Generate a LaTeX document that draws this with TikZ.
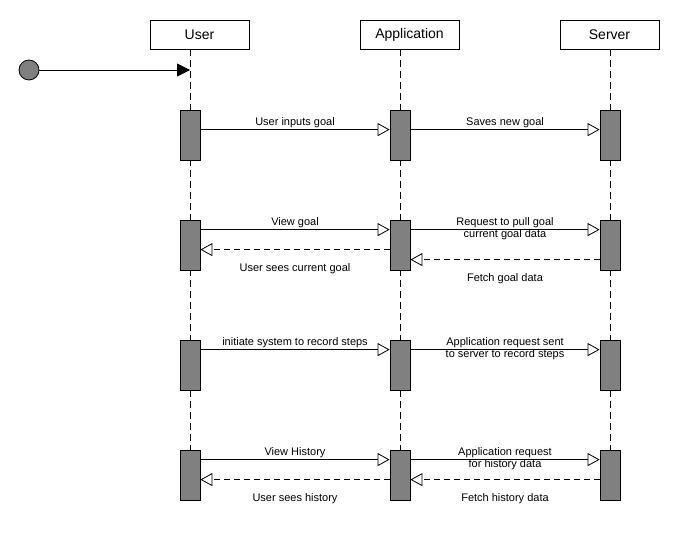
\documentclass[tikz,border=0pt]{standalone}
\usepackage{fontspec}
\setmainfont{Liberation Sans}
\usetikzlibrary{arrows.meta,calc}
\definecolor{bargray}{HTML}{808080}
\begin{document}
\begin{tikzpicture}[x=1pt,y=-1pt,
  hdr/.style={draw=black,line width=0.8pt,fill=white,minimum width=99pt,minimum height=29pt,inner sep=0pt,font=\fontsize{14}{16}\selectfont},
  life/.style={line width=0.8pt,dash pattern=on 7pt off 4pt},
  bar/.style={draw=black,line width=0.8pt,fill=bargray,minimum width=20pt,minimum height=50pt,inner sep=0pt},
  msg/.style={line width=0.8pt,-{Triangle[length=12pt,width=13pt,fill=white]}},
  ret/.style={msg,dash pattern=on 6pt off 4pt},
  lbl/.style={midway,anchor=base,inner sep=0pt,font=\fontsize{11}{12}\selectfont},
  startdot/.style={circle,draw=black,line width=0.8pt,fill=bargray,minimum size=20pt,inner sep=0pt}
]
\useasboundingbox (0,0) rectangle (680,540);
\fill[white] (0,0) rectangle (680,540);

% headers
\node[hdr] (user) at (199.5,34.5) {User};
\node[hdr] (app)  at (409.5,34.5) {Application};
\node[hdr] (srv)  at (609.5,34.5) {Server};

% lifeline ends
\coordinate (uEnd) at (190,500);
\coordinate (aEnd) at (400,500);
\coordinate (sEnd) at (610,500);
\draw[life] (user.south -| uEnd) -- (uEnd);
\draw[life] (app.south -| aEnd) -- (aEnd);
\draw[life] (srv.south -| sEnd) -- (sEnd);

% initial
\node[startdot] (init) at (29,70) {};
\coordinate (initEnd) at (190,70);
\draw[line width=0.8pt,-{Triangle[length=13pt,width=13pt]}] (init) -- (initEnd);

% activation bars
\foreach \r/\yc in {1/135,2/245,3/365,4/475}{
  \node[bar] (u\r) at (190,\yc) {};
  \node[bar] (a\r) at (400,\yc) {};
  \node[bar] (s\r) at (610,\yc) {};
}

% row 1
\draw[msg] ($(u1.north east)+(0,20)$) -- ($(a1.north west)+(0,20)$) node[lbl,yshift=4pt]{User inputs goal};
\draw[msg] ($(a1.north east)+(0,20)$) -- ($(s1.north west)+(0,20)$) node[lbl,yshift=4pt]{Saves new goal};

% row 2
\draw[msg] ($(u2.north east)+(0,10)$) -- ($(a2.north west)+(0,10)$) node[lbl,yshift=4pt]{View goal};
\draw[ret] ($(a2.north west)+(0,30)$) -- ($(u2.north east)+(0,30)$) node[lbl,yshift=-22pt]{User sees current goal};
\draw[msg] ($(a2.north east)+(0,10)$) -- ($(s2.north west)+(0,10)$) node[lbl,yshift=4pt]{Request to pull goal} node[lbl,yshift=-8pt]{current goal data};
\draw[ret] ($(s2.north west)+(0,40)$) -- ($(a2.north east)+(0,40)$) node[lbl,yshift=-22pt]{Fetch goal data};

% row 3
\draw[msg] ($(u3.north east)+(0,10)$) -- ($(a3.north west)+(0,10)$) node[lbl,yshift=4pt]{initiate system to record steps};
\draw[msg] ($(a3.north east)+(0,10)$) -- ($(s3.north west)+(0,10)$) node[lbl,yshift=4pt]{Application request sent} node[lbl,yshift=-8pt]{to server to record steps};

% row 4
\draw[msg] ($(u4.north east)+(0,10)$) -- ($(a4.north west)+(0,10)$) node[lbl,yshift=4pt]{View History};
\draw[ret] ($(a4.north west)+(0,30)$) -- ($(u4.north east)+(0,30)$) node[lbl,yshift=-22pt]{User sees history};
\draw[msg] ($(a4.north east)+(0,10)$) -- ($(s4.north west)+(0,10)$) node[lbl,yshift=4pt]{Application request} node[lbl,yshift=-8pt]{for history data};
\draw[ret] ($(s4.north west)+(0,30)$) -- ($(a4.north east)+(0,30)$) node[lbl,yshift=-22pt]{Fetch history data};
\end{tikzpicture}
\end{document}
